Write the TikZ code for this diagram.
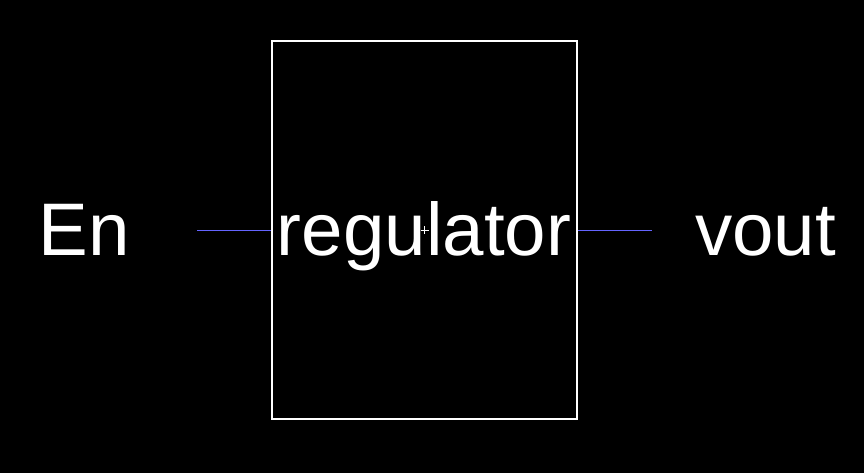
\documentclass[tikz,border=0pt]{standalone}
\usepackage{fontspec}
\setmainfont{Liberation Sans}
\definecolor{wireblue}{RGB}{100,100,255}
\begin{document}
\begin{tikzpicture}[x=1pt,y=1pt,
  lbl/.style={text=white,font=\fontsize{74.5}{80}\selectfont,inner sep=0pt,anchor=base},
  blk/.style={draw=white,line width=2.2pt,minimum width=305pt,minimum height=378pt,inner sep=0pt},
  wire/.style={draw=wireblue,line width=1.2pt}]
\fill[black] (0,0) rectangle (864,473);
\useasboundingbox (0,0) rectangle (864,473);
\node[blk] (box) at (424.5,243) {};
\node[lbl] (reg) at (424,217) {regulator};
\node[lbl] (en) at (84,217) {En};
\node[lbl] (vout) at (765.5,217) {vout};
\coordinate (lin) at (197,242.5);
\coordinate (rout) at (652,242.5);
\draw[wire] (lin) -- (box.west |- lin);
\draw[wire] (box.east |- rout) -- (rout);
\draw[white,line width=0.8pt] ([xshift=-4pt]box.center) -- ([xshift=4pt]box.center)
  ([yshift=-4pt]box.center) -- ([yshift=4pt]box.center);
\end{tikzpicture}
\end{document}
